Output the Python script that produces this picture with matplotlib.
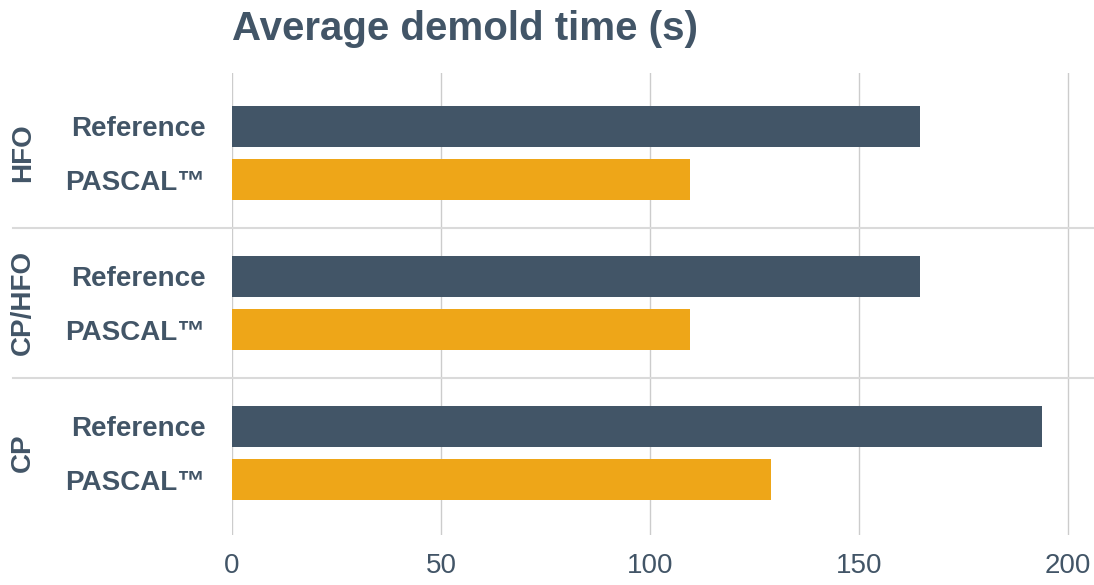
# LIBRARIES
import matplotlib.pyplot as plt
from matplotlib.lines import Line2D
from matplotlib.transforms import blended_transform_factory
import numpy as np


# DATA
groups = ['CP', 'CP/HFO', 'HFO']          # bottom to top
seriesNames = ['Reference', 'PASCAL™']
referenceValues = [193.7, 164.5, 164.5]
pascalValues = [129, 109.5, 109.5]
xTicks = [0, 50, 100, 150, 200]

# STYLE
darkColor = '#425567'
orangeColor = '#EEA618'
gridColor = '#cccccc'
sepColor = '#dadada'
plt.rcParams['font.family'] = ['Liberation Sans', 'DejaVu Sans']


# FIGURE
fig = plt.figure(figsize=(10.94, 5.85), dpi=100)
# axes box in pixels: left 232, right ~1076 (x up to 202), top 73, bottom 535
xMax = 202
pxPerUnit = 4.18
ax = fig.add_axes([232/1094, 1 - 535/585, xMax*pxPerUnit/1094, (535 - 73)/585])

groupCenters = np.arange(len(groups)) + 0.5
offset = 0.177
barHeight = 0.273
refPos = groupCenters + offset
pasPos = groupCenters - offset

ax.barh(refPos, referenceValues, height=barHeight, color=darkColor, zorder=3)
ax.barh(pasPos, pascalValues, height=barHeight, color=orangeColor, zorder=3)

ax.set_xlim(0, xMax)
ax.set_ylim(-0.047, 3.033)

# x axis ticks and grid
ax.set_xticks(xTicks)
ax.set_xticklabels([str(t) for t in xTicks], fontsize=20, color=darkColor)
ax.tick_params(axis='x', length=0, pad=13)
ax.grid(axis='x', color=gridColor, lw=1.0, zorder=0)

# y axis: series labels per bar
yPositions = []
yLabels = []
for i in range(len(groups)):
    yPositions += [refPos[i], pasPos[i]]
    yLabels += seriesNames
ax.set_yticks(yPositions)
ax.set_yticklabels(yLabels, fontsize=20, fontweight='bold', color=darkColor)
ax.tick_params(axis='y', length=0, pad=19)

for spine in ax.spines.values():
    spine.set_visible(False)

# group labels and separators
trans = blended_transform_factory(fig.transFigure, ax.transData)
for i, name in enumerate(groups):
    ax.text(23/1094, groupCenters[i], name, transform=trans, rotation=90,
            ha='center', va='center', fontsize=20, fontweight='bold', color=darkColor)
for boundary in range(1, len(groups)):
    fig.add_artist(Line2D([13/1094, 1094/1094], [boundary, boundary], transform=trans,
                          color=sepColor, lw=1.5, zorder=1))

# title
fig.text(232/1094, 1 - 29/585, 'Average demold time (s)', fontsize=29, fontweight='bold',
         color=darkColor, ha='left', va='center')

fig.savefig('out.png', dpi=100)
